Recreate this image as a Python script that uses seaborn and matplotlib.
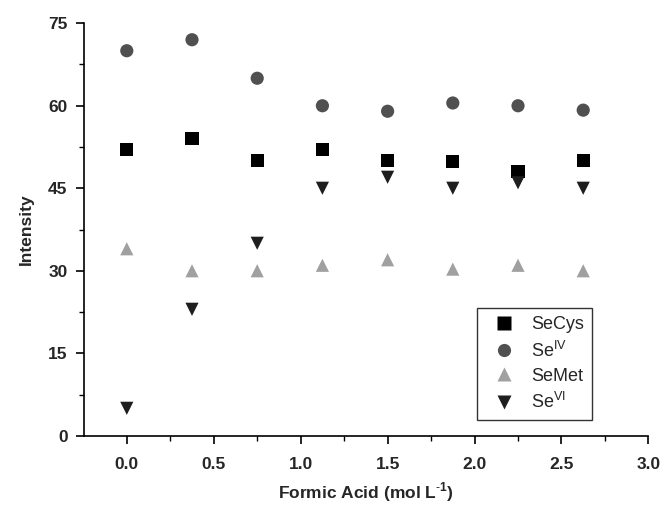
import matplotlib
matplotlib.use("Agg")
import matplotlib.pyplot as plt
from matplotlib.ticker import MultipleLocator
import seaborn as sns
import pandas as pd

sns.set_theme(style="ticks")
plt.rcParams["font.family"] = ["Liberation Sans", "DejaVu Sans"]
plt.rcParams["mathtext.fontset"] = "custom"
plt.rcParams["mathtext.rm"] = "Liberation Sans"
plt.rcParams["mathtext.bf"] = "Liberation Sans:bold"

formicAcid = [0.0, 0.375, 0.75, 1.125, 1.5, 1.875, 2.25, 2.625]
seCys = [52, 54, 50, 52, 50, 49.8, 48, 50]
seIV = [70, 72, 65, 60, 59, 60.5, 60, 59.2]
seMet = [34, 30, 30, 31, 32, 30.3, 31, 30]
seVI = [5, 23, 35, 45, 47, 45, 46, 45]

seriesNames = ["SeCys", r"Se$^{\rm IV}$", "SeMet", r"Se$^{\rm VI}$"]
seriesValues = [seCys, seIV, seMet, seVI]

rows = []
for name, values in zip(seriesNames, seriesValues):
    for x, y in zip(formicAcid, values):
        rows.append({"Formic": x, "Intensity": y, "Species": name})
data = pd.DataFrame(rows)

palette = dict(zip(seriesNames, ["#000000", "#505050", "#a0a0a0", "#1e1e1e"]))
markers = dict(zip(seriesNames, ["s", "o", "^", "v"]))

fig = plt.figure(figsize=(6.63, 5.05), dpi=100)
ax = fig.add_axes([0.127, 0.137, 0.851, 0.817])

sns.scatterplot(data=data, x="Formic", y="Intensity", hue="Species", style="Species",
                palette=palette, markers=markers, s=90, edgecolor="none", ax=ax)

ax.set_xlim(-0.245, 3.0)
ax.set_ylim(0, 75)
ax.xaxis.set_major_locator(MultipleLocator(0.5))
ax.xaxis.set_minor_locator(MultipleLocator(0.25))
ax.yaxis.set_major_locator(MultipleLocator(15))
ax.yaxis.set_minor_locator(MultipleLocator(7.5))
ax.tick_params(which="major", length=6, width=1.2, color="black", labelsize=12.5)
ax.tick_params(axis="x", which="major", pad=9)
ax.tick_params(axis="y", which="major", pad=6)
ax.tick_params(which="minor", length=3.5, width=1.0, color="black")
for lbl in ax.get_xticklabels() + ax.get_yticklabels():
    lbl.set_fontweight("bold")

sns.despine(ax=ax)
for side in ["left", "bottom"]:
    ax.spines[side].set_linewidth(1.2)
    ax.spines[side].set_color("black")

ax.set_xlabel(r"Formic Acid (mol L$^{\mathbf{\text{-}1}}$)", fontsize=12.5, fontweight="bold", labelpad=6)
ax.set_ylabel("Intensity", fontsize=12.5, fontweight="bold", labelpad=10)

leg = ax.legend(loc="lower left", bbox_to_anchor=(0.681, 0.016), fontsize=13, frameon=True,
                fancybox=False, edgecolor="black", handletextpad=0.5, borderpad=0.45,
                labelspacing=0.4, markerscale=1.0)
leg.get_frame().set_linewidth(1.0)

fig.savefig("out.png", dpi=100)
